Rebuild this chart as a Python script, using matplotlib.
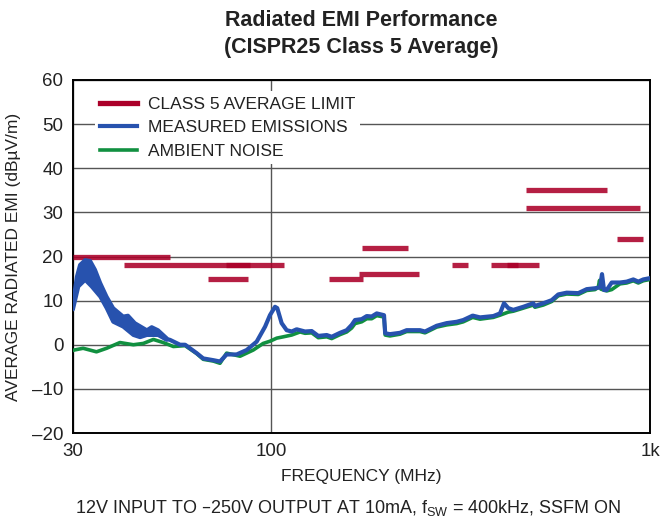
import matplotlib
matplotlib.use("Agg")
import matplotlib.pyplot as plt
from matplotlib.lines import Line2D

plt.rcParams['font.family'] = ['Liberation Sans', 'DejaVu Sans']
plt.rcParams['mathtext.default'] = 'regular'

# CISPR25 class 5 average limit segments: (start MHz, stop MHz, dBuV/m)
limit_segments = [
    (30, 54, 20), (41, 88, 18), (68, 87, 15), (76, 108, 18),
    (142, 175, 15), (171, 245, 16), (174, 230, 22), (300, 330, 18),
    (380, 448, 18), (419, 510, 18), (470, 770, 35), (470, 940, 31),
    (820, 960, 24),
]

# measured emissions, the wide spread band below ~53 MHz
band_upper_f = [30.0, 30.7, 31.3, 32.3, 33.3, 34.3, 35.4, 36.8, 38.3, 40.7, 41.9,
                43.7, 47.0, 48.4, 50.3, 53.0]
band_upper_v = [9.5, 15.4, 18.1, 19.2, 19.0, 17.0, 14.0, 10.9, 8.3, 6.4, 6.6,
                4.9, 3.3, 4.0, 3.3, 1.5]
band_lower_f = [30.0, 31.0, 32.3, 33.6, 35.4, 36.8, 38.3, 40.7, 43.3, 45.1, 47.0,
                50.3, 53.0]
band_lower_v = [8.0, 13.2, 14.7, 13.2, 10.9, 8.3, 5.2, 4.1, 2.2, 1.7, 2.2,
                2.2, 1.1]

# measured emissions above the band
meas_f = [53.0, 54.1, 57.5, 59.3, 63.6, 66.2, 70.4, 73.3, 76.3, 81.1, 86.2, 91.6,
          96.4, 99.3, 102.4, 103.8, 106.6, 109.9, 113.3, 116.8, 122.9, 128.0,
          133.2, 140.2, 144.5, 152.0, 158.3, 163.2, 166.5, 173.4, 178.8, 184.3,
          190.0, 198.6, 200.0, 205.9, 218.9, 227.9, 247.1, 254.8, 273.5, 290.7,
          308.9, 321.5, 340.4, 355.9, 385.9, 401.9, 411.8, 422.7, 435.7, 463.0,
          491.9, 497.0, 522.8, 550.2, 572.7, 602.7, 646.8, 680.7, 715.9, 738.0,
          747.0, 756.1, 768.6, 792.3, 833.1, 867.8, 903.5, 931.4, 960.0, 1000.0]
meas_v = [1.3, 1.1, 0.0, 0.0, -1.9, -3.1, -3.5, -3.8, -2.2, -2.2, -1.2, 0.7,
          4.1, 6.7, 8.6, 8.3, 4.9, 3.3, 3.0, 3.5, 3.0, 3.1,
          2.0, 2.2, 1.8, 2.7, 3.3, 4.5, 5.6, 5.8, 6.5, 6.4,
          7.1, 6.7, 2.6, 2.4, 2.7, 3.3, 3.3, 3.0, 4.3, 4.9,
          5.2, 5.6, 6.6, 6.2, 6.5, 7.1, 9.4, 8.3, 7.9, 8.6,
          9.4, 8.8, 9.4, 10.1, 11.4, 11.8, 11.7, 12.6, 12.8, 13.0,
          16.0, 12.4, 12.4, 14.1, 14.1, 14.3, 14.8, 14.3, 14.8, 15.1]

# ambient noise
amb_f = [30.0, 30.2, 31.9, 34.6, 36.8, 39.9, 43.3, 46.0, 48.9, 51.9, 55.2, 59.3,
         63.6, 66.2, 70.4, 73.3, 76.3, 82.8, 89.7, 95.3, 99.3, 103.5, 107.7,
         113.3, 119.2, 122.9, 128.0, 133.2, 140.2, 144.5, 152.0, 158.3, 163.2,
         166.5, 173.4, 178.8, 184.3, 190.0, 198.6, 200.0, 205.9, 218.9, 227.9,
         247.1, 254.8, 273.5, 290.7, 308.9, 321.5, 340.4, 355.9, 385.9, 401.9,
         422.7, 435.7, 463.0, 491.9, 497.0, 522.8, 550.2, 572.7, 602.7, 646.8,
         680.7, 715.9, 730.0, 736.0, 742.0, 768.6, 792.3, 833.1, 867.8, 903.5,
         931.4, 960.0, 1000.0]
amb_v = [-1.3, -1.2, -0.8, -1.6, -0.8, 0.5, 0.0, 0.3, 1.2, 0.5, -0.4, -0.2,
         -2.0, -3.3, -3.7, -4.2, -1.9, -2.6, -1.2, 0.3, 0.8, 1.5, 1.8,
         2.2, 2.9, 2.6, 2.7, 1.6, 1.8, 1.4, 2.3, 2.9, 3.8,
         4.8, 5.2, 5.9, 5.9, 6.6, 6.3, 2.2, 2.0, 2.4, 3.0,
         3.0, 2.7, 4.0, 4.5, 4.8, 5.2, 6.2, 5.8, 6.2, 6.7,
         7.4, 7.6, 8.3, 9.0, 8.5, 9.0, 9.8, 11.1, 11.5, 11.4,
         12.3, 12.5, 13.0, 14.6, 12.6, 12.2, 12.5, 13.8, 14.0, 14.5,
         14.0, 14.5, 14.8]

y_ticks = [-20, -10, 0, 10, 20, 30, 40, 50, 60]
x_ticks = [30, 100, 1000]
x_tick_labels = ['30', '100', '1k']

RED = '#ab0029'
BLUE = '#2752ae'
GREEN = '#119040'
TXT = '#222222'

fig = plt.figure(figsize=(6.6, 5.21), dpi=100)
ax = fig.add_axes([73 / 660, 88 / 521, 577 / 660, 353 / 521])

ax.set_xscale('log')
ax.set_xlim(30, 1000)
ax.set_ylim(-20, 60)
ax.set_xticks(x_ticks)
ax.set_xticklabels(x_tick_labels)
ax.xaxis.set_minor_locator(matplotlib.ticker.NullLocator())
ax.set_yticks(y_ticks)
ax.set_yticklabels([str(t).replace('-', '\u2013') for t in y_ticks])
ax.tick_params(length=0, labelsize=13.5, pad=7, colors=TXT)
ax.grid(True, color='#555555', linewidth=1.0)
ax.set_axisbelow(True)
for s in ax.spines.values():
    s.set_linewidth(1.4)

# limit bars
for f1, f2, v in limit_segments:
    ax.plot([f1, f2], [v, v], color=RED, linewidth=3.8, alpha=0.88,
            solid_capstyle='butt', zorder=3)

ax.plot(amb_f, amb_v, color=GREEN, linewidth=2.6, zorder=4)

band_f = band_upper_f + band_lower_f[::-1]
band_v = band_upper_v + band_lower_v[::-1]
ax.fill(band_f, band_v, color=BLUE, linewidth=2.8, edgecolor=BLUE,
        joinstyle='round', zorder=5)
ax.plot(meas_f, meas_v, color=BLUE, linewidth=3.0, zorder=5)

handles = [Line2D([], [], color=RED, linewidth=3.8),
           Line2D([], [], color=BLUE, linewidth=3.0),
           Line2D([], [], color=GREEN, linewidth=2.6)]
labels = ['CLASS 5 AVERAGE LIMIT', 'MEASURED EMISSIONS', 'AMBIENT NOISE']
leg = ax.legend(handles, labels, loc='upper left', bbox_to_anchor=(0.038, 0.968),
                fontsize=12.5, frameon=True, fancybox=False, handlelength=2.1,
                handletextpad=0.65, labelspacing=0.48, borderpad=0.3,
                borderaxespad=0.0)
leg.get_frame().set_facecolor('white')
leg.get_frame().set_edgecolor('none')
leg.get_frame().set_alpha(1.0)
for t in leg.get_texts():
    t.set_color(TXT)

ax.set_ylabel('AVERAGE RADIATED EMI (dB\u00b5V/m)', fontsize=12.5, color=TXT, labelpad=8)
ax.set_xlabel('FREQUENCY (MHz)', fontsize=12.5, color=TXT, labelpad=7)

fig.text(0.548, 1 - 34 / 521, 'Radiated EMI Performance\n(CISPR25 Class 5 Average)',
         ha='center', va='center', fontsize=15.5, fontweight='bold',
         linespacing=1.4, color=TXT)
fig.text(0.527, 1 - 508 / 521,
         '12V INPUT TO \u2013250V OUTPUT AT 10mA, f$_{SW}$ = 400kHz, SSFM ON',
         ha='center', va='center', fontsize=13, color=TXT)

fig.savefig('out.png', dpi=100)
